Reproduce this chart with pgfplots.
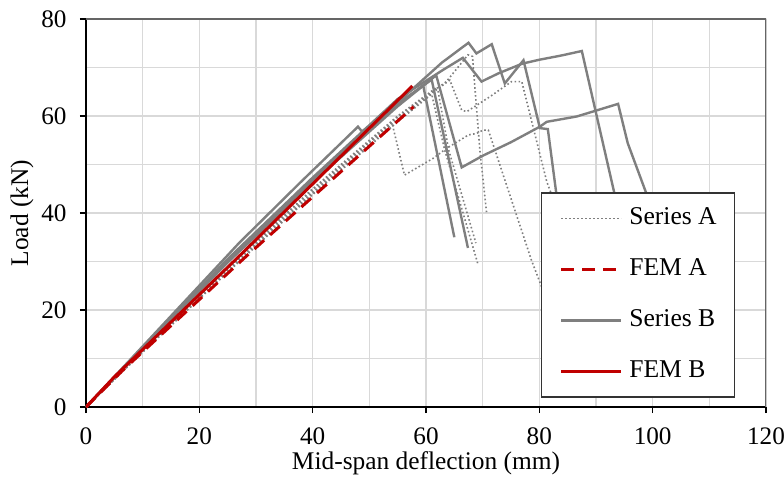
\documentclass[border=0pt]{standalone}
\usepackage{pgfplots}
\pgfplotsset{compat=1.18}
\usepackage{fontspec}
\setmainfont{Liberation Serif}
\definecolor{sgray}{HTML}{7F7F7F}
\definecolor{fred}{HTML}{C00000}
\definecolor{gridc}{HTML}{D9D9D9}
\tikzset{
  serA/.style={sgray, line width=0.8bp, dash pattern=on 0.8bp off 1.2bp},
  femA/.style={fred, line width=1.5bp, dash pattern=on 6.5bp off 4bp},
  serB/.style={sgray, line width=1.2bp},
  femB/.style={fred, line width=1.5bp},
}
\begin{document}
\begin{tikzpicture}
\begin{axis}[
  scale only axis, width=340bp, height=194bp,
  xmin=0, xmax=120, ymin=0, ymax=80,
  xtick={0,20,...,120}, ytick={0,20,...,80},
  minor xtick={10,30,...,110}, minor ytick={10,30,50,70},
  grid=both,
  major grid style={gridc, line width=0.75bp},
  minor grid style={gridc, line width=0.75bp},
  axis x line=bottom, axis y line=left,
  axis line style={-, black, line width=1bp},
  tick align=outside, major tick length=3bp, minor tick length=0pt,
  tick style={black, line width=0.75bp},
  /pgf/number format/assume math mode=true,
  ticklabel style={font=\fontsize{12.6bp}{14bp}\selectfont},
  yticklabel style={anchor=east, inner sep=0pt, xshift=-6.5bp},
  xticklabel style={anchor=north, inner sep=0pt, yshift=-7bp},
  xlabel={Mid-span deflection (mm)}, ylabel={Load (kN)},
  every axis x label/.style={at={(rel axis cs:0.5,0)}, anchor=center, yshift=-28bp, font=\fontsize{12.7bp}{14bp}\selectfont},
  every axis y label/.style={at={(rel axis cs:0,0.5)}, anchor=center, xshift=-32bp, rotate=90, font=\fontsize{12.7bp}{14bp}\selectfont},
  legend style={at={(rel axis cs:0.669,0.554)}, anchor=north west,
    draw=black!80, line width=0.75bp, fill=white,
    font=\fontsize{12.8bp}{14bp}\selectfont,
    inner xsep=9bp, inner ysep=6.8bp, row sep=13.5bp, column sep=3.3bp,
    nodes={inner sep=0pt, text height=9bp, text depth=3bp}},
  legend cell align=left,
  legend image code/.code={\draw[#1] (0bp,0bp) -- (30bp,0bp);},
]
% Series A (dotted)
\addplot[serA, forget plot] coordinates {(0,0) (10,11.6) (25,28.5) (40,44.8) (54,58.6) (56.2,47.8) (61.3,51.3) (63.6,53.3) (67.5,56.1) (68.9,56.4) (70.1,57.1) (71,57.1) (78.6,30.3) (80.4,24.8) (82,20)};
\addplot[serA, forget plot] coordinates {(0,0) (10,11.4) (25,28) (40,44) (55,59.3) (60,63.8) (64.2,67.4) (66.3,61.2) (67.2,60.9) (71.3,64) (75.1,67.1) (76.9,67.1) (81.3,46.5) (84,38)};
\addplot[serA, forget plot] coordinates {(0,0) (10,11.5) (25,28.3) (40,44.3) (55,59.8) (63.6,67.1) (67.4,72.6) (68.2,72.3) (69.5,53) (70.7,40)};
\addplot[serA, forget plot] coordinates {(0,0) (10,11.3) (25,27.8) (40,43.8) (55,58.8) (61,64.5) (63.3,53) (69.2,29.3)};
\addplot[serA, forget plot] coordinates {(0,0) (10,11.7) (25,28.7) (40,45) (55,60) (62,66) (64,53) (68.8,33.8)};
% Series B (solid)
\addplot[serB, forget plot] coordinates {(0,0) (10,12.5) (27,33.8) (38,46.5) (48,57.8) (48.7,56.8) (54,61.5) (59.5,66.3) (65,35)};
\addplot[serB, forget plot] coordinates {(0,0) (10,12.2) (25,30.3) (40,47) (55,62.5) (61,67.5) (67.4,32.8)};
\addplot[serB, forget plot] coordinates {(0,0) (10,12) (25,29.8) (40,46.3) (55,62) (61.8,68.4) (66.3,49.4) (70,51.8) (75,54.6) (80.1,57.8) (81.3,58.8) (86.6,59.9) (93.9,62.5) (95.6,54.4) (98.8,44.3) (101,36)};
\addplot[serB, forget plot] coordinates {(0,0) (10,12.1) (25,30) (40,46.7) (55,62.8) (62.8,71) (67.5,75.1) (68.9,72.9) (71.6,74.8) (73.9,66.7) (77.2,71.5) (80.1,57.5) (81.5,57.3) (83,44) (84,36)};
\addplot[serB, forget plot] coordinates {(0,0) (10,12.3) (25,30.5) (40,47.3) (55,63.5) (63,69.5) (66.5,72) (69.8,67.1) (72.8,68.8) (77,70.8) (80,71.6) (84,72.5) (87.5,73.4) (93.2,44.3) (95,36)};
% FEM
\addplot[femA, forget plot] coordinates {(0,0) (6.5,7.6) (28.2,31) (57.8,61.9)};
\addplot[femB, forget plot] coordinates {(0,0) (5,6.2) (28,32.2) (57.6,66.2)};
\draw[sgray!80!black, line width=0.75bp] (rel axis cs:0,1) -- (rel axis cs:1,1) -- (rel axis cs:1,0);
\addlegendimage{serA}\addlegendentry{Series A}
\addlegendimage{femA}\addlegendentry{FEM A}
\addlegendimage{serB}\addlegendentry{Series B}
\addlegendimage{femB}\addlegendentry{FEM B}
\end{axis}
\pgfresetboundingbox
\useasboundingbox (-43bp,-35bp) rectangle (349bp,203.5bp);
\end{tikzpicture}
\end{document}
